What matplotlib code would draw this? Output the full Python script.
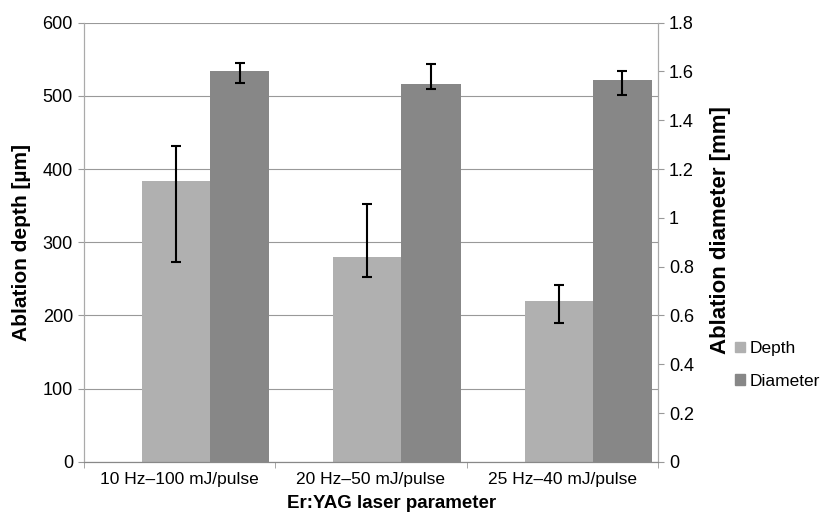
import numpy as np
import matplotlib
matplotlib.use("Agg")
import matplotlib.pyplot as plt
from matplotlib.patches import Patch

plt.rcParams['font.family'] = ['Liberation Sans', 'DejaVu Sans']

# データ
categories = ["10 Hz\u2013100 mJ/pulse", "20 Hz\u201350 mJ/pulse", "25 Hz\u201340 mJ/pulse"]
depth = [383, 280, 220]            # µm
depth_low = [273, 252, 190]        # error bar bottom
depth_high = [431, 352, 241]       # error bar top
diameter = [1.60, 1.548, 1.563]    # mm
diam_low = [1.552, 1.527, 1.502]
diam_high = [1.635, 1.629, 1.602]

x = np.arange(len(categories))
fig = plt.figure(figsize=(8.27, 5.19), dpi=100)
ax = fig.add_axes([0.1016, 0.110, 0.6940, 0.8465])
ax2 = ax.twinx()

c_depth = "#b0b0b0"
c_diam = "#878787"

# 棒の位置 (カテゴリ内で右寄り)
d_left = x - 0.5 + 0.304
d_w = 0.355
m_left = x - 0.5 + 0.659
m_w = 0.31

err_d = [np.array(depth) - np.array(depth_low), np.array(depth_high) - np.array(depth)]
err_m = [np.array(diameter) - np.array(diam_low), np.array(diam_high) - np.array(diameter)]

ax.bar(d_left, depth, width=d_w, align="edge", color=c_depth, zorder=2)
ax.errorbar(d_left + d_w / 2, depth, yerr=err_d, fmt="none", ecolor="black",
            elinewidth=1.5, capsize=3.5, capthick=1.5, zorder=3)
ax2.bar(m_left, diameter, width=m_w, align="edge", color=c_diam, zorder=2)
ax2.errorbar(m_left + m_w / 2, diameter, yerr=err_m, fmt="none", ecolor="black",
             elinewidth=1.5, capsize=3.5, capthick=1.5, zorder=3)

ax.set_xlim(-0.5, 2.5)
ax.set_ylim(0, 600)
ax2.set_ylim(0, 1.8)
ax.set_yticks(range(0, 601, 100))
ax2.set_yticks(np.arange(0, 1.81, 0.2))
ax2.set_yticklabels(["0", "0.2", "0.4", "0.6", "0.8", "1", "1.2", "1.4", "1.6", "1.8"])
ax.set_xticks(x)
ax.set_xticklabels(categories)
ax.set_xticks([-0.5, 0.5, 1.5, 2.5], minor=True)
ax.tick_params(axis="x", which="major", length=0, labelsize=12.5, pad=7)
ax.tick_params(axis="x", which="minor", length=4, color="#999999")
ax.tick_params(axis="y", length=4, color="#999999", labelsize=13, pad=4)
ax2.tick_params(axis="y", length=4, color="#999999", labelsize=13, pad=4)

ax.yaxis.grid(True, color="#999999", linewidth=0.8, zorder=0)
ax.set_axisbelow(True)
for a in (ax, ax2):
    a.spines["top"].set_visible(False)
    a.spines["left"].set_color("#aaaaaa")
    a.spines["right"].set_color("#aaaaaa")
    a.spines["bottom"].set_color("#888888")

ax.set_ylabel("Ablation depth [\u00b5m]", fontsize=15, fontweight="bold", labelpad=8)
ax2.set_ylabel("Ablation diameter [mm]", fontsize=16, fontweight="bold", rotation=90, labelpad=9)
ax2.yaxis.set_label_coords(1.09, 0.528)
ax.set_xlabel("Er:YAG laser parameter", fontsize=13.5, fontweight="bold", labelpad=5)
ax.xaxis.set_label_coords(0.535, -0.075)

handles = [Patch(color=c_depth, label="Depth"), Patch(color=c_diam, label="Diameter")]
fig.legend(handles=handles, loc="center left", bbox_to_anchor=(0.889, 0.297),
           frameon=False, fontsize=12.5, handlelength=0.55, handleheight=0.55,
           handletextpad=0.3, labelspacing=1.0, borderpad=0, borderaxespad=0)

fig.savefig("out.png", dpi=100)
